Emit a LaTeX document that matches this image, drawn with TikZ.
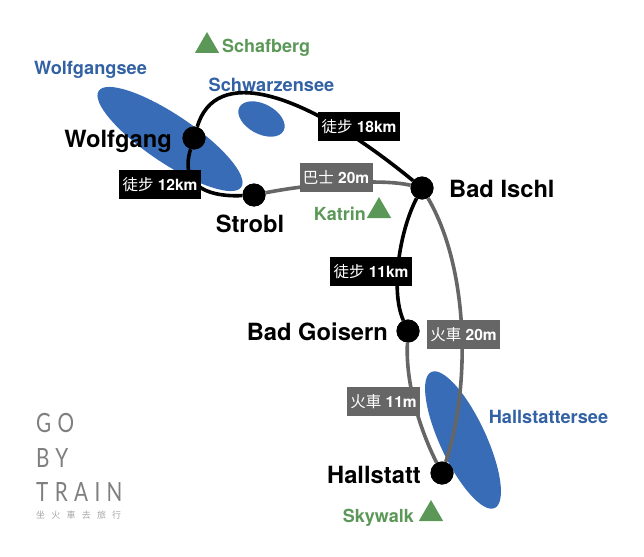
\documentclass[tikz,border=0pt]{standalone}
\usepackage{fontspec}
\setmainfont{TeX Gyre Heros}
\newfontfamily\cjk{Noto Sans CJK TC}
\newfontfamily\logofont[LetterSpace=31]{Lato}
\newfontfamily\logocjk[LetterSpace=69]{Noto Sans CJK TC}
\newcommand{\zh}[1]{{\mdseries\cjk #1}}
\usetikzlibrary{positioning,shapes.geometric}
\definecolor{lakeblue}{HTML}{386CB6}
\definecolor{peakgreen}{HTML}{5B9858}
\definecolor{busgray}{HTML}{666666}
\definecolor{logogray}{HTML}{7F7F7F}
\tikzset{
    station/.style={
           circle,
           fill=black,
           minimum size=23pt,
           inner sep=0pt},
    stationname/.style={
           font=\fontsize{23.7}{26}\selectfont\bfseries,
           inner sep=0pt},
    lake/.style={
           ellipse,
           fill=lakeblue,
           inner sep=0pt},
    lakename/.style={
           font=\fontsize{18.2}{20}\selectfont\bfseries,
           text=lakeblue!90!black,
           inner sep=0pt},
    peak/.style={
           regular polygon,
           regular polygon sides=3,
           fill=peakgreen,
           minimum size=28pt,
           inner sep=0pt},
    peakname/.style={
           font=\fontsize{18}{20}\selectfont\bfseries,
           text=peakgreen,
           inner sep=0pt},
    walk/.style={
           draw=black,
           line width=3.6pt},
    train/.style={
           draw=busgray,
           line width=3.6pt},
    walktag/.style={
           fill=black,
           text=white,
           minimum width=82pt,
           minimum height=29pt,
           inner sep=0pt,
           font=\fontsize{15.5}{18}\selectfont\bfseries},
    traintag/.style={
           walktag,
           fill=busgray,
           minimum width=73pt},
    logo/.style={
           font=\fontsize{26.5}{30}\selectfont\logofont,
           text=logogray,
           anchor=west,
           xscale=0.78,
           transform shape,
           inner sep=0pt}
}

\begin{document}
\begin{tikzpicture}[x=1pt, y=-1pt]
        \useasboundingbox (0,0) rectangle (644,556);

        % lakes
        \node[lake, minimum width=172pt, minimum height=48pt, rotate=-34] (wolfgangsee) at (170,139) {};
        \node[lake, minimum width=50pt, minimum height=30pt, rotate=-28] (schwarzensee) at (261.5,119) {};
        \node[lake, minimum width=150pt, minimum height=46pt, rotate=-65] (hallstattersee) at (463,440) {};
        \node[lakename] (wolfgangseename) at (90.5,70) {Wolfgangsee};
        \node[lakename] (schwarzenseename) at (271.5,84.5) {Schwarzensee};
        \node[lakename] (hallstatterseename) at (548.5,417) {Hallstattersee};

        \node[station] (wolfgang) at (194,138) {};
        \node[station] (strobl) at (254,195) {};
        \node[station] (ischl) at (422,188) {};
        \node[station] (goisern) at (408,331) {};
        \node[station] (hallstatt) at (442,473) {};

        \draw[walk] (wolfgang) .. controls (215,66) and (300,88) .. (ischl);
        \draw[walk] (wolfgang) .. controls (178,190) and (215,197) .. (strobl);
        \draw[walk] (ischl) .. controls (400,230) and (390,290) .. (goisern);
        \draw[train] (strobl) .. controls (310,184) and (380,178) .. (ischl);
        \draw[train] (ischl) .. controls (470,270) and (470,390) .. (hallstatt);
        \draw[train] (goisern) .. controls (405,390) and (425,440) .. (hallstatt);

        \node[station] at (wolfgang) {};
        \node[station] at (strobl) {};
        \node[station] at (ischl) {};
        \node[station] at (goisern) {};
        \node[station] at (hallstatt) {};

        \node[stationname, left=22pt of wolfgang.center, yshift=-3pt] (wolfgangname) {Wolfgang};
        \node[stationname, below=20pt of strobl.center, xshift=-4pt] (stroblname) {Strobl};
        \node[stationname, right=27pt of ischl.center, yshift=-1pt] (ischlname) {Bad Ischl};
        \node[stationname, left=20pt of goisern.center, yshift=-1pt] (goisernname) {Bad Goisern};
        \node[stationname, left=21pt of hallstatt.center, yshift=-2pt] (hallstattname) {Hallstatt};

        \node[walktag] (tag18) at (359,126.5) {\zh{徒步} 18km};
        \node[walktag] (tag12) at (160,184.5) {\zh{徒步} 12km};
        \node[walktag] (tag11) at (371,271.5) {\zh{徒步} 11km};
        \node[traintag] (bus20) at (336,177.5) {\zh{巴士} 20m};
        \node[traintag] (train20) at (463.5,334.5) {\zh{火車} 20m};
        \node[traintag] (train11) at (383.5,401.5) {\zh{火車} 11m};

        % peaks
        \node[peak] (schafberg) at (207,46) {};
        \node[peak] (katrin) at (379,211) {};
        \node[peak] (skywalk) at (431,514) {};
        \node[peakname, right=15pt of schafberg.center, yshift=-2pt] (schafbergname) {Schafberg};
        \node[peakname, left=13pt of katrin.center, yshift=-3pt] (katrinname) {Katrin};
        \node[peakname, left=17pt of skywalk.center, yshift=-4pt] (skywalkname) {Skywalk};

        % logo
        \node[logo] (go) at (36,423) {GO};
        \node[logo] (by) at (36,458) {BY};
        \node[logo] (trainword) at (36,492) {TRAIN};
        \node[logo, xscale=1.282, font=\fontsize{9}{10}\selectfont\logocjk, text=logogray!70] (slogan) at (36,515) {坐火車去旅行};
\end{tikzpicture}
\end{document}
